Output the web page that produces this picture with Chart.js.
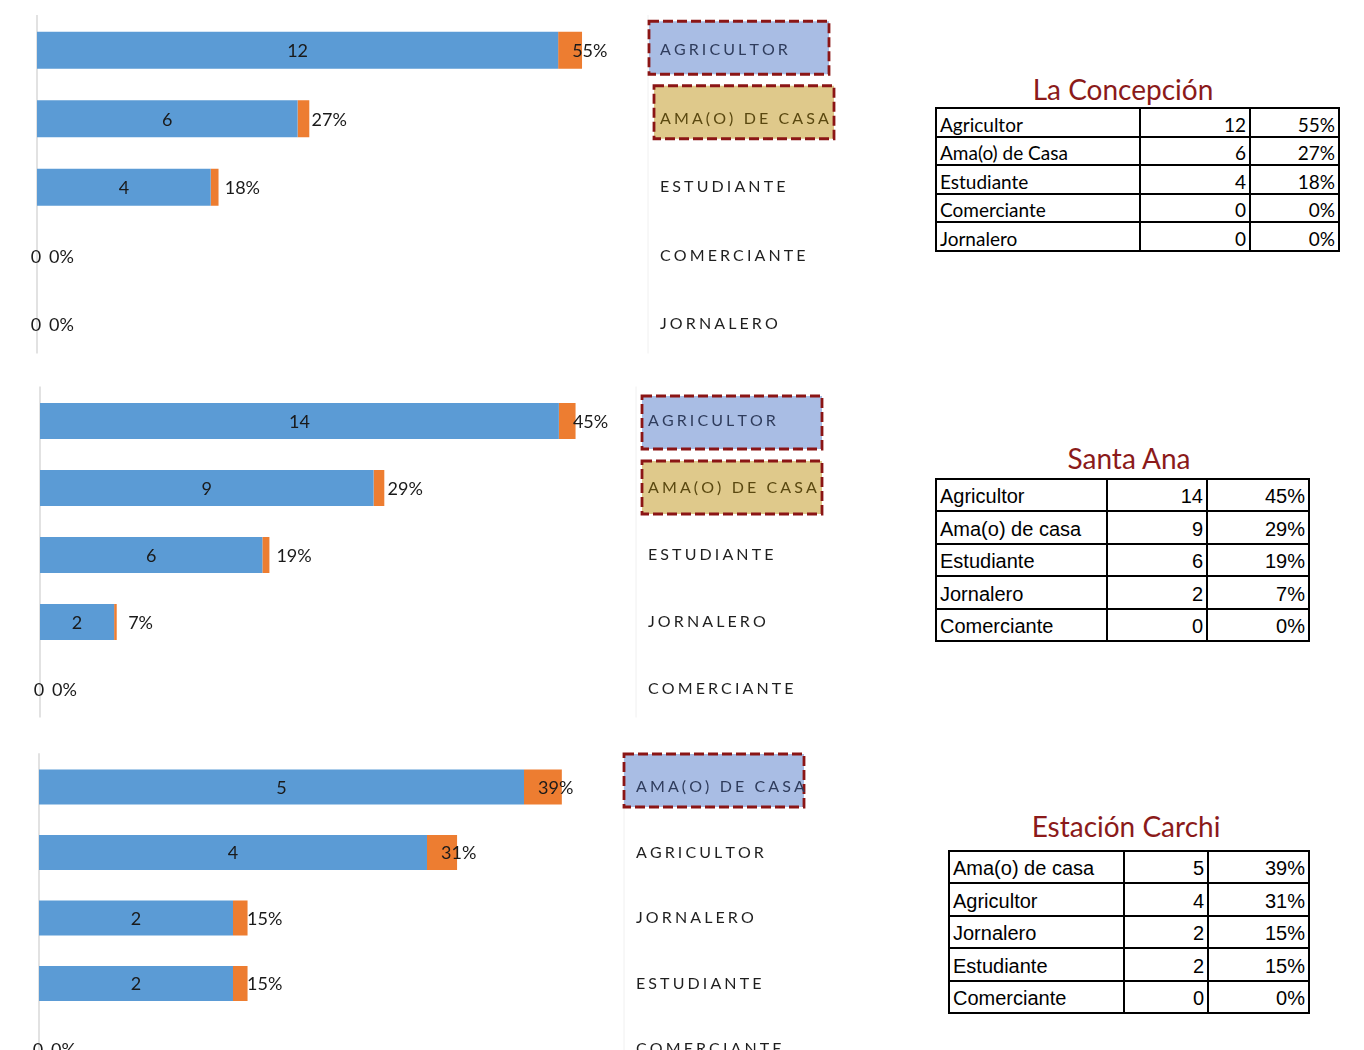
<!DOCTYPE html>
<html>
<head>
<meta charset="utf-8">
<script src="https://cdn.jsdelivr.net/npm/chart.js@4/dist/chart.umd.min.js"></script>
<style>
  body { margin: 0; width: 1364px; height: 1050px; overflow: hidden; background: #fff; position: relative; }
  canvas { position: absolute; left: 0; }
  .title { position: absolute; width: 300px; text-align: center; font-family: Lato, sans-serif; font-size: 28px; line-height: 28px; color: #8b1a1a; }
  table { position: absolute; border-collapse: collapse; table-layout: fixed; }
  td { border: 2px solid #000; padding: 0 3px; white-space: nowrap; overflow: hidden; color: #000; }
  td.num { text-align: right; }
  .t1 td { font-family: Lato, sans-serif; font-size: 19px; line-height: 19px; vertical-align: bottom; padding-bottom: 2px; }
  .t2 td { font-family: "Liberation Sans", Arial, sans-serif; font-size: 20px; line-height: 20px; vertical-align: bottom; padding-bottom: 4px; }
</style>
</head>
<body>
<canvas id="c1" width="880" height="365" style="top:0"></canvas>
<canvas id="c2" width="880" height="360" style="top:370px"></canvas>
<canvas id="c3" width="880" height="345" style="top:740px"></canvas>

<script>
// La Concepción
const concepcionCategories = ['Agricultor', 'Ama(o) de Casa', 'Estudiante', 'Comerciante', 'Jornalero'];
const concepcionCounts = [12, 6, 4, 0, 0];
const concepcionPercents = [0.55, 0.27, 0.18, 0, 0];

// Santa Ana
const santaAnaCategories = ['Agricultor', 'Ama(o) de casa', 'Estudiante', 'Jornalero', 'Comerciante'];
const santaAnaCounts = [14, 9, 6, 2, 0];
const santaAnaPercents = [0.45, 0.29, 0.19, 0.07, 0];

// Estación Carchi
const carchiCategories = ['Ama(o) de casa', 'Agricultor', 'Jornalero', 'Estudiante', 'Comerciante'];
const carchiCounts = [5, 4, 2, 2, 0];
const carchiPercents = [0.39, 0.31, 0.15, 0.15, 0];

const BLUE = '#5b9bd5';
const ORANGE = '#ed7d31';
const BOX_BLUE = '#a9bde4';
const BOX_TAN = '#dfc98b';
const BOX_EDGE = '#8b1515';

const pct = v => Math.round(v * 100) + '%';

// draws the axis lines, value labels and the spaced category labels on the right
const barLabels = {
  id: 'barLabels',
  beforeDatasetsDraw(chart) {
    const { ctx, chartArea: a, scales: { x } } = chart;
    ctx.save();
    ctx.strokeStyle = '#d9d9d9';
    ctx.lineWidth = 1.5;
    ctx.beginPath();
    ctx.moveTo(x.getPixelForValue(0), a.top - 1);
    ctx.lineTo(x.getPixelForValue(0), a.bottom - 5);
    ctx.stroke();
    ctx.strokeStyle = '#f0f0f0';
    ctx.lineWidth = 1;
    ctx.beginPath();
    ctx.moveTo(a.right + 3, a.top - 1);
    ctx.lineTo(a.right + 3, a.bottom - 5);
    ctx.stroke();
    ctx.restore();
  },
  afterDatasetsDraw(chart, args, opts) {
    const { ctx, chartArea: a, scales: { x, y } } = chart;
    const counts = chart.data.datasets[0].data;
    const pcts = chart.data.datasets[1].data;
    const x0 = x.getPixelForValue(0);
    ctx.save();
    ctx.font = '18px Lato, sans-serif';
    ctx.fillStyle = '#1a1a1a';
    ctx.textBaseline = 'middle';
    counts.forEach((c, i) => {
      const cy = y.getPixelForValue(i) + 1;
      const xe = x.getPixelForValue(c);
      ctx.textAlign = 'center';
      ctx.fillText(String(c), c === 0 ? x0 - 1 : (x0 + xe) / 2, cy);
      // percentage sits just inside the base of the orange piece
      ctx.textAlign = 'left';
      ctx.fillText(pct(pcts[i]), xe + (c === 0 ? 12 : 14), cy);
    });

    // category labels
    const tx = a.right + 15;
    chart.data.labels.forEach((lab, i) => {
      const cy = y.getPixelForValue(i);
      const fill = opts.boxes[i];
      let color = '#1f1f1f';
      if (fill) {
        const [dx, dy] = opts.boxShift[i];
        const bx = tx + dx, by = cy + dy;
        ctx.fillStyle = fill;
        ctx.fillRect(bx, by, 180, 53);
        ctx.strokeStyle = BOX_EDGE;
        ctx.lineWidth = 2.8;
        ctx.setLineDash([10, 4]);
        ctx.strokeRect(bx, by, 180, 53);
        ctx.setLineDash([]);
        color = fill === BOX_BLUE ? '#2f3c5c' : '#5a4810';
      }
      ctx.fillStyle = color;
      ctx.font = '16px Lato, sans-serif';
      ctx.textAlign = 'left';
      let cx = tx;
      for (const ch of lab.toUpperCase()) {
        ctx.fillText(ch, cx, cy);
        cx += ctx.measureText(ch).width + 3.1;
      }
    });
    ctx.restore();
  }
};

function makeChart(id, cats, counts, percents, max, pad, barPct, boxes, boxShift) {
  return new Chart(document.getElementById(id), {
    type: 'bar',
    data: {
      labels: cats,
      datasets: [
        { label: 'Cantidad', data: counts, backgroundColor: BLUE, borderWidth: 0 },
        { label: 'Porcentaje', data: percents, backgroundColor: ORANGE, borderWidth: 0 }
      ]
    },
    options: {
      indexAxis: 'y',
      responsive: false,
      animation: false,
      layout: { padding: pad },
      datasets: { bar: { categoryPercentage: 1, barPercentage: barPct } },
      plugins: {
        legend: { display: false },
        tooltip: { enabled: false },
        barLabels: { boxes, boxShift }
      },
      scales: {
        x: { stacked: true, min: 0, max, display: false },
        y: { stacked: true, display: false }
      }
    },
    plugins: [barLabels]
  });
}

makeChart('c1', concepcionCategories, concepcionCounts, concepcionPercents, 14,
  { left: 37, right: 235, top: 16, bottom: 6.5 }, 0.54, [BOX_BLUE, BOX_TAN], [[-11, -29], [-6, -33]]);
makeChart('c2', santaAnaCategories, santaAnaCounts, santaAnaPercents, 16,
  { left: 40, right: 247, top: 17.5, bottom: 7.5 }, 0.54, [BOX_BLUE, BOX_TAN], [[-6, -25], [-6, -27]]);
makeChart('c3', carchiCategories, carchiCounts, carchiPercents, 6,
  { left: 39, right: 259, top: 14.25, bottom: 3.25 }, 0.535, [BOX_BLUE], [[-12, -33]]);

// tables on the right
function makeTable(title, cats, counts, percents, cls, pos) {
  const t = document.createElement('div');
  t.className = 'title';
  t.textContent = title;
  t.style.left = (pos.titleX - 150) + 'px';
  t.style.top = pos.titleY + 'px';
  document.body.appendChild(t);

  const table = document.createElement('table');
  table.className = cls;
  table.style.left = pos.left + 'px';
  table.style.top = pos.top + 'px';
  const cg = document.createElement('colgroup');
  pos.cols.forEach(w => {
    const c = document.createElement('col');
    c.style.width = w + 'px';
    cg.appendChild(c);
  });
  table.appendChild(cg);
  cats.forEach((cat, i) => {
    const tr = document.createElement('tr');
    tr.style.height = pos.rowH + 'px';
    [cat, counts[i], pct(percents[i])].forEach((v, j) => {
      const td = document.createElement('td');
      td.textContent = v;
      if (j > 0) td.className = 'num';
      tr.appendChild(td);
    });
    table.appendChild(tr);
  });
  document.body.appendChild(table);
}

makeTable('La Concepción', concepcionCategories, concepcionCounts, concepcionPercents, 't1',
  { titleX: 1123, titleY: 75, left: 935, top: 107, cols: [204, 110, 89], rowH: 28.6 });
makeTable('Santa Ana', santaAnaCategories, santaAnaCounts, santaAnaPercents, 't2',
  { titleX: 1129, titleY: 444, left: 935, top: 478, cols: [171, 100, 102], rowH: 32.4 });
makeTable('Estación Carchi', carchiCategories, carchiCounts, carchiPercents, 't2',
  { titleX: 1126, titleY: 812, left: 948, top: 850, cols: [175, 84, 101], rowH: 32.4 });
</script>
</body>
</html>
